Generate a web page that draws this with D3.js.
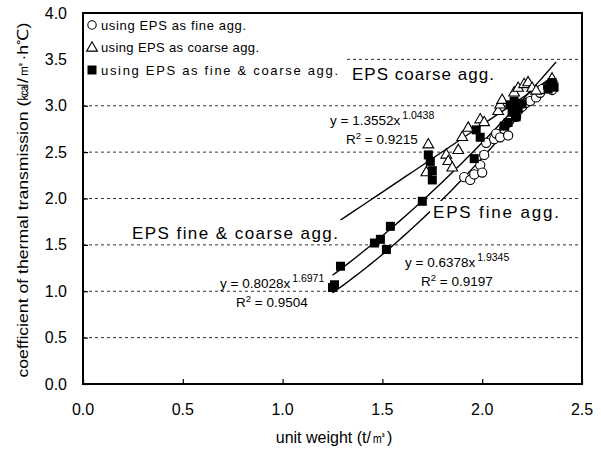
<!DOCTYPE html>
<html><head><meta charset="utf-8">
<script src="https://cdn.jsdelivr.net/npm/d3@7"></script>
<style>body{margin:0;background:#fff}svg{display:block}text{font-family:"Liberation Sans",Arial,sans-serif;fill:#000}</style>
</head><body><svg id="c" width="601" height="456"></svg>
<script>
const xTicks = [0, 0.5, 1.0, 1.5, 2.0, 2.5];
const yTicks = [0, 0.5, 1.0, 1.5, 2.0, 2.5, 3.0, 3.5, 4.0];
const seriesNames = ["using EPS as fine agg.", "using EPS as coarse agg.", "using EPS as fine & coarse agg."];
const fineX = [1.91,1.94,1.96,1.99,2.00,2.01,2.02,2.06,2.07,2.09,2.11,2.13,2.17,2.18,2.20,2.22,2.24,2.27,2.29,2.30,2.33,2.35];
const fineY = [2.23,2.20,2.26,2.36,2.28,2.47,2.60,2.64,2.70,2.66,2.75,2.68,2.88,2.95,2.99,3.03,3.05,3.09,3.14,3.18,3.20,3.17];
const coarseX = [1.72,1.73,1.82,1.83,1.85,1.88,1.90,1.93,1.99,2.01,2.08,2.09,2.10,2.16,2.18,2.21,2.23,2.25,2.27,2.35];
const coarseY = [2.29,2.59,2.48,2.41,2.34,2.53,2.67,2.77,2.86,2.83,2.95,3.02,3.07,3.15,3.20,3.24,3.26,3.20,3.17,3.30];
const bothX = [1.25,1.26,1.29,1.46,1.49,1.52,1.54,1.70,1.73,1.74,1.75,1.75,1.96,1.97,1.99,2.11,2.13,2.14,2.15,2.16,2.18,2.20,2.17,2.33,2.34,2.35,2.36];
const bothY = [1.04,1.07,1.27,1.52,1.56,1.45,1.70,1.97,2.47,2.40,2.30,2.20,2.43,2.74,2.66,2.78,2.82,3.01,2.93,3.05,2.97,3.02,2.88,3.18,3.22,3.25,3.20];
// power fits y = a x^b : [a, b, xStart, xEnd]
const fitFine = [0.6378, 1.9345, 1.25, 2.34];
const fitCoarse = [1.3552, 1.0438, 1.29, 2.33];
const fitBoth = [0.8028, 1.6971, 1.25, 2.37];

const svg = d3.select("#c");
const L=83, R=582, T=13, B=384;
const x = d3.scaleLinear().domain([0,2.5]).range([L,R]);
const y = d3.scaleLinear().domain([0,4]).range([B,T]);

// grid
svg.append("g").selectAll("line").data(yTicks.filter(v=>v>0&&v<4)).join("line")
  .attr("x1",L).attr("x2",R).attr("y1",d=>y(d)).attr("y2",d=>y(d))
  .attr("stroke","#333").attr("stroke-width",1).attr("stroke-dasharray","3,3");

// axes ticks inside
const ay = svg.append("g").attr("transform",`translate(${L},0)`).call(d3.axisRight(y).tickValues(yTicks).tickSize(5).tickFormat(""));
const ax = svg.append("g").attr("transform",`translate(0,${B})`).call(d3.axisTop(x).tickValues(xTicks).tickSize(5).tickFormat(""));
[ay,ax].forEach(g=>{g.select(".domain").remove(); g.selectAll("line").attr("stroke","#000").attr("stroke-width",1.2);});

// tick labels
svg.append("g").selectAll("text").data(yTicks).join("text")
  .attr("x",67).attr("y",d=>y(d)+5.5).attr("text-anchor","end").attr("font-size",16).text(d=>d.toFixed(1));
svg.append("g").selectAll("text").data(xTicks).join("text")
  .attr("x",d=>x(d)).attr("y",415).attr("text-anchor","middle").attr("font-size",16).text(d=>d.toFixed(1));

// titles
svg.append("text").attr("x",334).attr("y",443).attr("text-anchor","middle").attr("font-size",16).text("unit weight (t/㎥)");
svg.append("text").attr("transform","translate(28,200) rotate(-90)").attr("text-anchor","middle").attr("font-size",15)
  .attr("textLength",355).attr("lengthAdjust","spacingAndGlyphs")
  .text("coefficient of thermal transmission (㎉/㎡·h℃)");

// fit lines
const lineGen = d3.line().x(d=>x(d[0])).y(d=>y(d[1]));
[fitFine, fitCoarse, fitBoth].forEach(f=>{
  const pts = d3.range(0,41).map(i=>{const xv=f[2]+(f[3]-f[2])*i/40; return [xv, f[0]*Math.pow(xv,f[1])];});
  svg.append("path").attr("d",lineGen(pts)).attr("fill","none").attr("stroke","#000").attr("stroke-width",1.4);
});

// markers
const zipXY=(a,b)=>a.map((v,i)=>[v,b[i]]);
const tri = d3.symbol().type(d3.symbolTriangle).size(50);
svg.append("g").selectAll("circle").data(zipXY(fineX,fineY)).join("circle")
  .attr("cx",d=>x(d[0])).attr("cy",d=>y(d[1])).attr("r",4.6).attr("fill","#fff").attr("stroke","#000").attr("stroke-width",1.1);
svg.append("g").selectAll("path").data(zipXY(coarseX,coarseY)).join("path")
  .attr("d",tri).attr("transform",d=>`translate(${x(d[0])},${y(d[1])+1})`).attr("fill","#fff").attr("stroke","#000").attr("stroke-width",1.1);
svg.append("g").selectAll("rect").data(zipXY(bothX,bothY)).join("rect")
  .attr("x",d=>x(d[0])-4.5).attr("y",d=>y(d[1])-4.5).attr("width",9).attr("height",9).attr("fill","#000");

// legend
const lg = svg.append("g");
lg.append("rect").attr("x",L+1).attr("y",T+1).attr("width",262).attr("height",70).attr("fill","#fff");
const legY=[25,47,70];
const legW=[145,158,237];
lg.append("circle").attr("cx",92).attr("cy",legY[0]).attr("r",4.2).attr("fill","#fff").attr("stroke","#000").attr("stroke-width",1.1);
lg.append("path").attr("d",tri).attr("transform",`translate(92,${legY[1]+1})`).attr("fill","#fff").attr("stroke","#000").attr("stroke-width",1.1);
lg.append("rect").attr("x",87.5).attr("y",legY[2]-4.5).attr("width",9).attr("height",9).attr("fill","#000");
lg.selectAll("text").data(seriesNames).join("text").attr("x",101).attr("y",(d,i)=>legY[i]+4.5).attr("font-size",13)
  .attr("textLength",(d,i)=>legW[i]).attr("lengthAdjust","spacing").text(d=>d);

// labels with white background
function label(txt,xp,yp,fs,w){
  const g=svg.append("g");
  g.append("text").attr("x",xp).attr("y",yp).attr("font-size",fs).attr("textLength",w).attr("lengthAdjust","spacing").text(txt);
  g.insert("rect","text").attr("x",xp-3).attr("y",yp-fs).attr("width",w+6).attr("height",fs+5).attr("fill","#fff");
}
label("EPS coarse agg.",352,80,17,142);
label("EPS fine & coarse agg.",132,239,17,206);
label("EPS fine agg.",433,218,17,126);

// equations
function eq(a,b,r2,xp,yp){
  const t=svg.append("text").attr("x",xp).attr("y",yp).attr("font-size",13.5);
  t.append("tspan").text(`y = ${a}x`);
  t.append("tspan").attr("dx",2).attr("dy",-6).attr("font-size",10.5).text(b);
  const t2=svg.append("text").attr("x",xp+16).attr("y",yp+19).attr("font-size",13.5);
  t2.append("tspan").text("R");
  t2.append("tspan").attr("dy",-5).attr("font-size",9.5).text("2");
  t2.append("tspan").attr("dy",5).text(` = ${r2}`);
}
eq("1.3552","1.0438","0.9215",330,125);
eq("0.8028","1.6971","0.9504",220,288);
eq("0.6378","1.9345","0.9197",405,267);

// frame
svg.append("rect").attr("x",L).attr("y",T).attr("width",R-L).attr("height",B-T).attr("fill","none").attr("stroke","#000").attr("stroke-width",2);
</script></body></html>
